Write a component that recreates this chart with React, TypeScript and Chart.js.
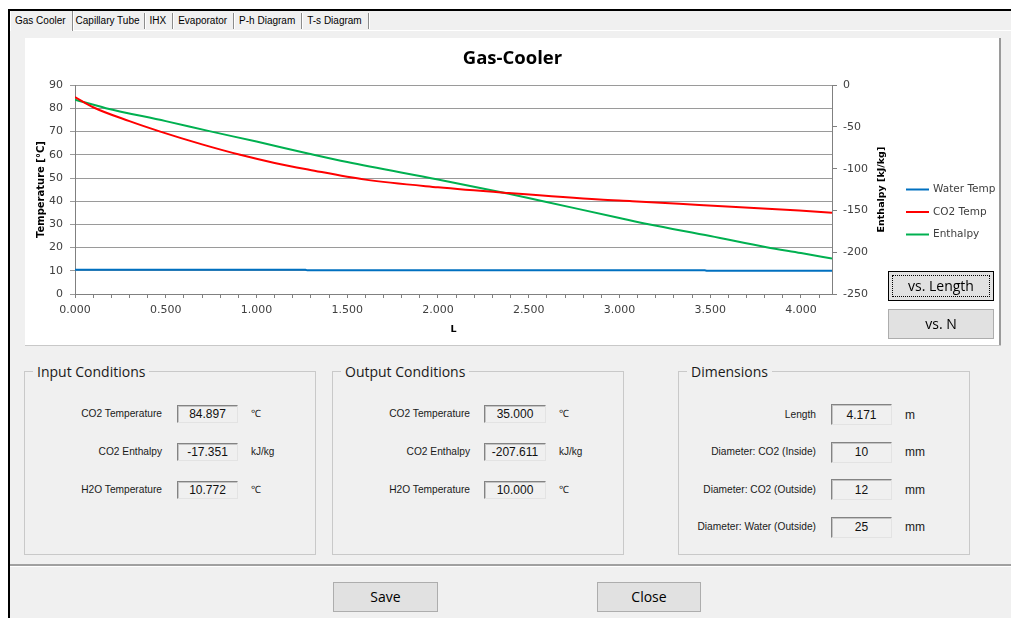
import React, { useEffect, useRef } from 'react';
import { Chart, registerables } from 'chart.js';

Chart.register(...registerables);

// ---------------- chart data ----------------
const chartTitle = 'Gas-Cooler';
const xAxisTitle = 'L';
const leftAxisTitle = 'Temperature [°C]';
const rightAxisTitle = 'Enthalpy [kJ/kg]';
const seriesNames = ['Water Temp', 'CO2 Temp', 'Enthalpy'];
const seriesColors = ['#0070C0', '#FF0000', '#00B050'];

const waterL = [0, 1.27, 1.28, 3.47, 3.48, 4.171];
const waterTemp = [10.45, 10.45, 10.2, 10.2, 10.0, 10.0];

const co2L = [0, 0.1, 0.3, 0.47, 0.7, 0.91, 1.1, 1.29, 1.6, 2.0, 2.39, 2.89, 3.07, 3.44, 3.99, 4.171];
const co2Temp = [84.9, 80.5, 74.5, 70.0, 64.5, 60.0, 56.5, 53.6, 49.3, 46.0, 43.5, 40.7, 40.0, 38.4, 36.0, 35.0];

const enthL = [0, 0.17, 0.5, 0.74, 1.0, 1.29, 1.5, 2.0, 2.39, 2.56, 3.0, 3.16, 3.5, 3.81, 4.0, 4.171];
const enthalpy = [-17.35, -27.5, -43, -55, -67.5, -82, -92, -113, -130, -138, -159, -166.5, -180.5, -194, -201, -207.6];

const xMin = 0;
const xMax = 4.171;
const xMinorStep = 0.1;
const tempMin = 0;
const tempMax = 90;
const tempStep = 10;
const enthMin = -250;
const enthMax = 0;
const enthStep = 50;

// ---------------- form data ----------------
const tabNames = ['Gas Cooler', 'Capillary Tube', 'IHX', 'Evaporator', 'P-h Diagram', 'T-s Diagram'];
const condLabels = ['CO2 Temperature', 'CO2 Enthalpy', 'H2O Temperature'];
const inputValues = ['84.897', '-17.351', '10.772'];
const outputValues = ['35.000', '-207.611', '10.000'];
const condUnits = ['℃', 'kJ/kg', '℃'];
const dimLabels = ['Length', 'Diameter: CO2 (Inside)', 'Diameter: CO2 (Outside)', 'Diameter: Water (Outside)'];
const dimValues = ['4.171', '10', '12', '25'];
const dimUnits = ['m', 'mm', 'mm', 'mm'];

const toPoints = (xs: number[], ys: number[]) => xs.map((x, i) => ({ x, y: ys[i] }));

const UI_FONT = '"Liberation Sans", Arial, sans-serif';
const BIG_FONT = '"Open Sans", "Noto Sans", sans-serif';

function GasCoolerChart() {
  const ref = useRef<HTMLCanvasElement>(null);
  useEffect(() => {
    const canvas = ref.current;
    if (!canvas) return;
    const sidePlugin = {
      id: 'sideLegend',
      afterDraw(chart: any) {
        const ctx = chart.ctx;
        const area = chart.chartArea;
        ctx.save();
        ctx.font = 'bold 9.5px "DejaVu Sans"';
        ctx.fillStyle = '#000';
        ctx.textAlign = 'center';
        ctx.textBaseline = 'middle';
        ctx.translate(857, (area.top + area.bottom) / 2);
        ctx.rotate(-Math.PI / 2);
        ctx.fillText(rightAxisTitle, 0, 0);
        ctx.restore();

        ctx.save();
        ctx.font = '10.5px "DejaVu Sans"';
        ctx.textBaseline = 'middle';
        ctx.textAlign = 'left';
        chart.data.datasets.forEach((ds: any, i: number) => {
          const y = 151.5 + i * 22.5;
          ctx.strokeStyle = ds.borderColor;
          ctx.lineWidth = 2;
          ctx.beginPath();
          ctx.moveTo(881, y);
          ctx.lineTo(904, y);
          ctx.stroke();
          ctx.fillStyle = '#404040';
          ctx.fillText(ds.label, 908, y);
        });
        ctx.restore();
      },
    };
    const chart = new Chart(canvas, {
      type: 'line',
      data: {
        datasets: [
          {
            label: seriesNames[0],
            data: toPoints(waterL, waterTemp),
            borderColor: seriesColors[0],
            backgroundColor: seriesColors[0],
            borderWidth: 2,
            pointRadius: 0,
            yAxisID: 'y',
          },
          {
            label: seriesNames[1],
            data: toPoints(co2L, co2Temp),
            borderColor: seriesColors[1],
            backgroundColor: seriesColors[1],
            borderWidth: 2,
            pointRadius: 0,
            cubicInterpolationMode: 'monotone',
            yAxisID: 'y',
          },
          {
            label: seriesNames[2],
            data: toPoints(enthL, enthalpy),
            borderColor: seriesColors[2],
            backgroundColor: seriesColors[2],
            borderWidth: 2,
            pointRadius: 0,
            cubicInterpolationMode: 'monotone',
            yAxisID: 'y1',
          },
        ],
      } as any,
      options: {
        animation: false,
        responsive: false,
        devicePixelRatio: 1,
        layout: { padding: 0 },
        plugins: {
          legend: { display: false },
          tooltip: { enabled: false },
          title: {
            display: true,
            text: chartTitle,
            color: '#000',
            font: { family: 'Open Sans', size: 18.5, weight: 'bold' },
            padding: { top: 10, bottom: 15 },
          },
        },
        scales: {
          x: {
            type: 'linear',
            min: xMin,
            max: xMax,
            afterFit: (s: any) => { s.height = 51; },
            ticks: {
              stepSize: xMinorStep,
              autoSkip: false,
              maxRotation: 0,
              includeBounds: false,
              padding: 6,
              color: '#404040',
              font: { family: 'DejaVu Sans', size: 11 },
              callback: (v: any) => {
                const n = Math.round(Number(v) * 10);
                return n % 5 === 0 ? (n / 10).toFixed(3) : '';
              },
            },
            grid: { drawOnChartArea: false, drawTicks: true, tickLength: 4, color: '#808080' },
            border: { color: '#808080' },
            title: {
              display: true,
              text: xAxisTitle,
              color: '#000',
              font: { family: 'DejaVu Sans', size: 9.5, weight: 'bold' },
              padding: { top: 0, bottom: 10 },
            },
          },
          y: {
            type: 'linear',
            position: 'left',
            min: tempMin,
            max: tempMax,
            afterFit: (s: any) => { s.width = 50; },
            ticks: {
              stepSize: tempStep,
              padding: 7,
              color: '#404040',
              font: { family: 'DejaVu Sans', size: 11 },
            },
            grid: { color: '#9a9a9a', tickLength: 5 },
            border: { color: '#808080' },
            title: {
              display: true,
              text: leftAxisTitle,
              color: '#000',
              font: { family: 'DejaVu Sans', size: 10, weight: 'bold' },
              padding: { top: 10, bottom: 0 },
            },
          },
          y1: {
            type: 'linear',
            position: 'right',
            min: enthMin,
            max: enthMax,
            afterFit: (s: any) => { s.width = 168; },
            ticks: {
              stepSize: enthStep,
              padding: 6,
              color: '#404040',
              font: { family: 'DejaVu Sans', size: 11 },
            },
            grid: { drawOnChartArea: false, tickLength: 5, color: '#808080' },
            border: { color: '#808080' },
          },
        },
      } as any,
      plugins: [sidePlugin],
    });
    return () => chart.destroy();
  }, []);
  return <canvas ref={ref} width={975} height={307} style={{ display: 'block', width: 975, height: 307 }} />;
}

function Button(props: { left: number; top: number; width: number; height: number; text: string; focused?: boolean }) {
  const { left, top, width, height, text, focused } = props;
  return (
    <div
      style={{
        position: 'absolute', left, top, width, height, boxSizing: 'border-box',
        background: '#e1e1e1', border: focused ? '1px solid #000' : '1px solid #adadad',
        display: 'flex', alignItems: 'center', justifyContent: 'center',
        fontFamily: BIG_FONT, fontSize: 14, color: '#000',
      }}
    >
      {focused && (
        <div style={{ position: 'absolute', left: 3, top: 3, right: 3, bottom: 3, border: '1px dotted #000' }} />
      )}
      <span style={{ position: 'relative', top: -1 }}>{text}</span>
    </div>
  );
}

function GroupBox(props: {
  left: number; width: number; title: string; labels: string[]; values: string[]; units: string[];
  rowYs: number[]; boxLeft: number; boxWidth: number; boxHeight: number; unitSize: number;
}) {
  const { left, width, title, labels, values, units, rowYs, boxLeft, boxWidth, boxHeight, unitSize } = props;
  return (
    <div style={{ position: 'absolute', left, top: 371, width, height: 184 }}>
      <div style={{ position: 'absolute', left: 0, top: 0, right: 0, bottom: 0, border: '1px solid #c9c9c9', boxSizing: 'border-box' }} />
      <div style={{ position: 'absolute', left: 9, top: -9, padding: '0 4px', background: '#f0f0f0', fontFamily: BIG_FONT, fontSize: 14, color: '#1a1a1a', lineHeight: '20px', whiteSpace: 'nowrap' }}>{title}</div>
      {labels.map((lab, i) => (
        <React.Fragment key={i}>
          <div style={{ position: 'absolute', right: width - 138, top: rowYs[i] - 8, height: 16, lineHeight: '16px', fontFamily: UI_FONT, fontSize: 10.2, color: '#1a1a1a', whiteSpace: 'nowrap' }}>{lab}</div>
          <div style={{ position: 'absolute', left: boxLeft, top: rowYs[i] - boxHeight / 2, width: boxWidth, height: boxHeight, boxSizing: 'border-box', borderStyle: 'solid', borderWidth: 1, borderColor: '#838383 #e3e3e3 #e3e3e3 #838383', boxShadow: 'inset 1px 1px 0 #c4c4c4', background: '#f0f0f0', display: 'flex', alignItems: 'center', justifyContent: 'center', fontFamily: UI_FONT, fontSize: 12, color: '#111' }}>{values[i]}</div>
          <div style={{ position: 'absolute', left: 227, top: rowYs[i] - 8, height: 16, lineHeight: '16px', fontFamily: UI_FONT, fontSize: unitSize, color: '#1a1a1a', whiteSpace: 'nowrap' }}>{units[i]}</div>
        </React.Fragment>
      ))}
    </div>
  );
}

export default function App() {
  return (
    <div style={{ position: 'absolute', left: 0, top: 0, width: 1011, height: 618, overflow: 'hidden', background: '#fff' }}>
      {/* window body */}
      <div style={{ position: 'absolute', left: 8, top: 9, width: 1011, height: 620, background: '#f0f0f0', borderLeft: '2px solid #000', borderTop: '2px solid #000' }} />
      {/* tab panel top line */}
      <div style={{ position: 'absolute', left: 71, top: 30, width: 950, height: 1, background: '#ffffff' }} />
      {/* tabs */}
      <div style={{ position: 'absolute', left: 10, top: 11, height: 20, display: 'flex', fontFamily: UI_FONT, fontSize: 10, color: '#000' }}>
        {tabNames.map((t, i) => (
          <div
            key={t}
            style={{
              height: i === 0 ? 20 : 16,
              marginTop: i === 0 ? 0 : 2,
              padding: i === 0 ? '0 6px 0 4px' : i === 1 ? '0 4px 0 3px' : '0 6px 0 5px',
              lineHeight: i === 0 ? '19px' : '16px',
              borderRight: '1px solid #8c8c8c',
              boxShadow: '1px 0 0 #fff',
              borderLeft: i === 0 ? '1px solid #fff' : 'none',
              whiteSpace: 'nowrap',
            }}
          >
            {t}
          </div>
        ))}
      </div>
      {/* chart panel */}
      <div style={{ position: 'absolute', left: 25, top: 38, width: 975, height: 307, background: '#fff' }}>
        <GasCoolerChart />
      </div>
      <div style={{ position: 'absolute', left: 999, top: 38, width: 2, height: 308, background: '#9a9a9a' }} />
      <div style={{ position: 'absolute', left: 25, top: 345, width: 976, height: 1, background: '#c8c8c8' }} />
      <Button left={888} top={271} width={106} height={30} text="vs. Length" focused />
      <Button left={888} top={309} width={106} height={30} text="vs. N" />

      <GroupBox left={24} width={292} title="Input Conditions" labels={condLabels} values={inputValues} units={condUnits}
        rowYs={[42.5, 80.5, 118.5]} boxLeft={153} boxWidth={61} boxHeight={18} unitSize={10} />
      <GroupBox left={332} width={292} title="Output Conditions" labels={condLabels} values={outputValues} units={condUnits}
        rowYs={[42.5, 80.5, 118.5]} boxLeft={152} boxWidth={62} boxHeight={18} unitSize={10} />
      <GroupBox left={678} width={292} title="Dimensions" labels={dimLabels} values={dimValues} units={dimUnits}
        rowYs={[43.5, 81, 118.5, 156]} boxLeft={153} boxWidth={61} boxHeight={21} unitSize={12} />

      {/* bottom separator */}
      <div style={{ position: 'absolute', left: 10, top: 564, width: 1001, height: 2, background: '#a0a0a0' }} />
      <div style={{ position: 'absolute', left: 10, top: 566, width: 1001, height: 1, background: '#ffffff' }} />
      <Button left={333} top={582} width={105} height={30} text="Save" />
      <Button left={597} top={582} width={104} height={30} text="Close" />
    </div>
  );
}
